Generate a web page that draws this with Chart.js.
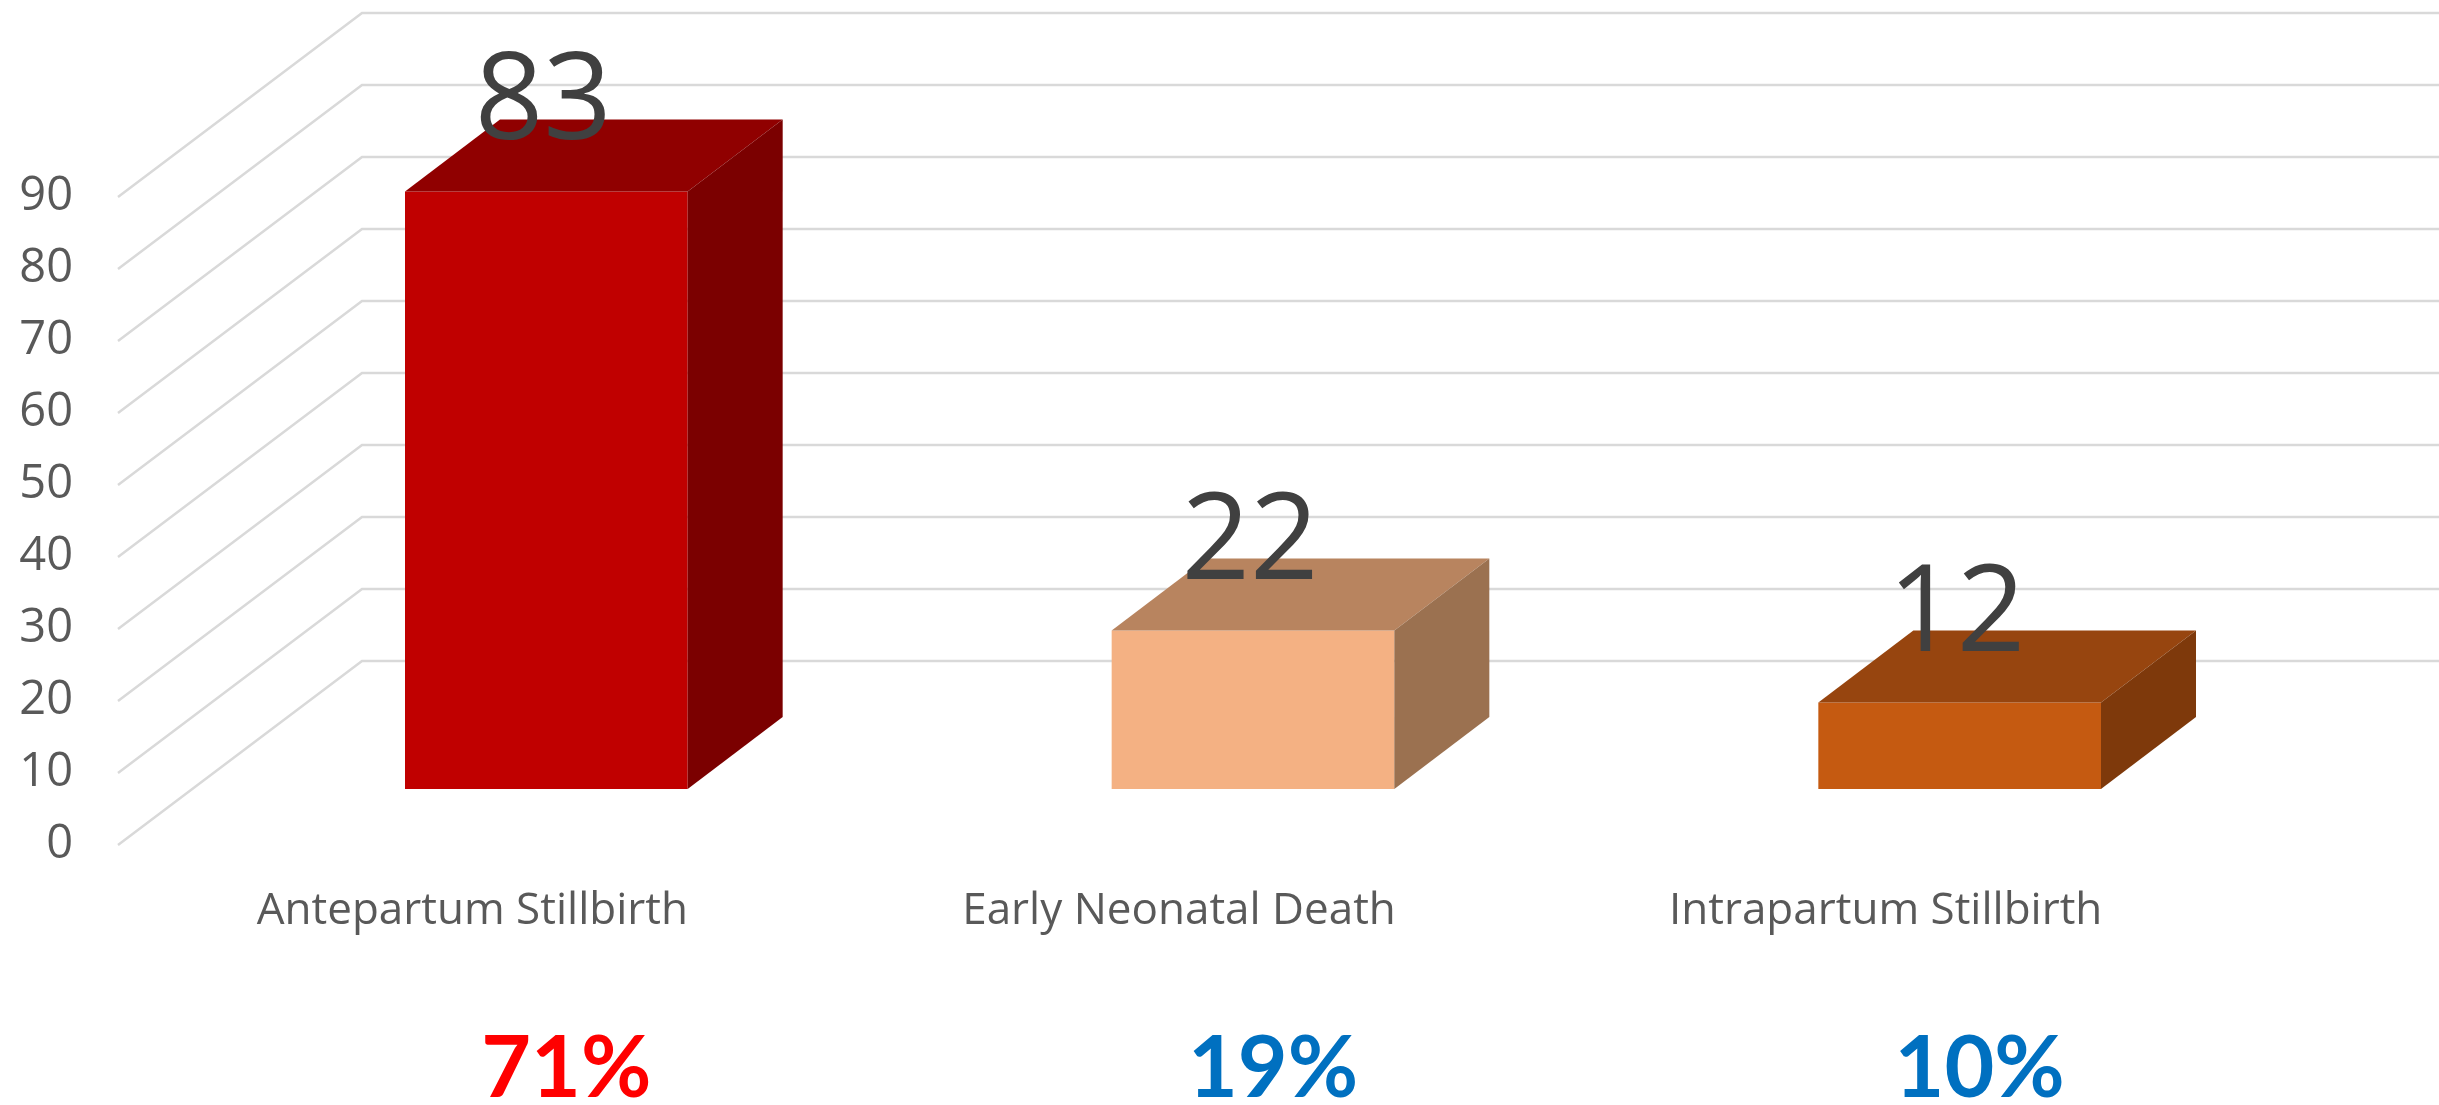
<!DOCTYPE html>
<html>
<head>
<meta charset="utf-8">
<title>Perinatal deaths</title>
<script src="https://cdn.jsdelivr.net/npm/chart.js@4.4.1/dist/chart.umd.min.js"></script>
<style>
	html, body { margin: 0; padding: 0; background: #ffffff; }
	.wrap { width: 2439px; height: 1105px; position: relative; }
</style>
</head>
<body>
<div class="wrap"><canvas class="bar-chart"></canvas></div>
<script>
const categories = ["Antepartum Stillbirth", "Early Neonatal Death", "Intrapartum Stillbirth"];
const counts = [83, 22, 12];
const percentLabels = ["71%", "19%", "10%"];
const yTicks = [0, 10, 20, 30, 40, 50, 60, 70, 80, 90];

const frontColors = ["#C00000", "#F4B183", "#C55A11"];
const topColors = ["#900000", "#B8845F", "#97450F"];
const sideColors = ["#7B0000", "#9B7150", "#7E390B"];
const percentColors = ["#FF0000", "#0070C0", "#0070C0"];

// fake 3d: depth of the bars and of the side wall
const depth = { bx: 95, by: 72, wallBack: 128, wallFront: 56, wallLeft: 118, wallRight: 362 };

const gridPlugin = {
	id: "grid3d",
	beforeDatasetsDraw: (chart) => {
		const ctx = chart.ctx;
		const y = chart.scales.y;
		ctx.save();
		ctx.strokeStyle = "#D9D9D9";
		ctx.lineWidth = 2.5;
		yTicks.forEach((v) => {
			const py = y.getPixelForValue(v);
			const back = py - depth.wallBack;
			const front = py + depth.wallFront;
			ctx.beginPath();
			ctx.moveTo(depth.wallLeft, front);
			ctx.lineTo(depth.wallRight, back);
			ctx.lineTo(chart.width, back);
			ctx.stroke();
		});
		ctx.fillStyle = "#595959";
		ctx.font = "47px 'Open Sans'";
		ctx.textAlign = "right";
		ctx.textBaseline = "middle";
		yTicks.forEach((v) => {
			ctx.fillText(String(v), 73, y.getPixelForValue(v) + depth.wallFront);
		});
		ctx.restore();
	},
	afterDatasetsDraw: (chart) => {
		const ctx = chart.ctx;
		const bars = chart.getDatasetMeta(0).data;
		ctx.save();
		bars.forEach((bar, i) => {
			const x0 = bar.x - bar.width / 2;
			const x1 = bar.x + bar.width / 2;
			const top = bar.y;
			const bottom = bar.base;

			ctx.fillStyle = topColors[i];
			ctx.beginPath();
			ctx.moveTo(x0, top);
			ctx.lineTo(x1, top);
			ctx.lineTo(x1 + depth.bx, top - depth.by);
			ctx.lineTo(x0 + depth.bx, top - depth.by);
			ctx.closePath();
			ctx.fill();

			ctx.fillStyle = sideColors[i];
			ctx.beginPath();
			ctx.moveTo(x1, top);
			ctx.lineTo(x1 + depth.bx, top - depth.by);
			ctx.lineTo(x1 + depth.bx, bottom - depth.by);
			ctx.lineTo(x1, bottom);
			ctx.closePath();
			ctx.fill();
		});

		// value labels
		ctx.fillStyle = "#404040";
		ctx.font = "120px 'Open Sans'";
		ctx.textAlign = "center";
		ctx.textBaseline = "alphabetic";
		bars.forEach((bar, i) => {
			ctx.fillText(String(counts[i]), bar.x - 3, bar.y - 52);
		});

		// category names
		const area = chart.chartArea;
		ctx.fillStyle = "#595959";
		ctx.font = "44px 'Open Sans'";
		bars.forEach((bar, i) => {
			ctx.fillText(categories[i], bar.x - 74, area.bottom + 135);
		});

		// share of deaths
		ctx.font = "bold 86px Lato";
		bars.forEach((bar, i) => {
			ctx.fillStyle = percentColors[i];
			ctx.fillText(percentLabels[i], bar.x + 20, area.bottom + 308);
		});
		ctx.restore();
	},
};

const renderChart = () => {
	const barChart = document.querySelector(".bar-chart");

	new Chart(barChart, {
		type: "bar",
		data: {
			labels: categories,
			datasets: [
				{
					label: "Count",
					data: counts,
					backgroundColor: frontColors,
					borderWidth: 0,
					barPercentage: 0.4,
					categoryPercentage: 1,
				},
			],
		},
		options: {
			responsive: true,
			maintainAspectRatio: false,
			animation: false,
			layout: {
				padding: { left: 193, right: 126, top: 141, bottom: 316 },
			},
			scales: {
				x: { display: false, offset: true },
				y: { display: false, min: 0, max: 90 },
			},
			plugins: {
				legend: { display: false },
				tooltip: { enabled: false },
			},
		},
		plugins: [gridPlugin],
	});
};

renderChart();
</script>
</body>
</html>
